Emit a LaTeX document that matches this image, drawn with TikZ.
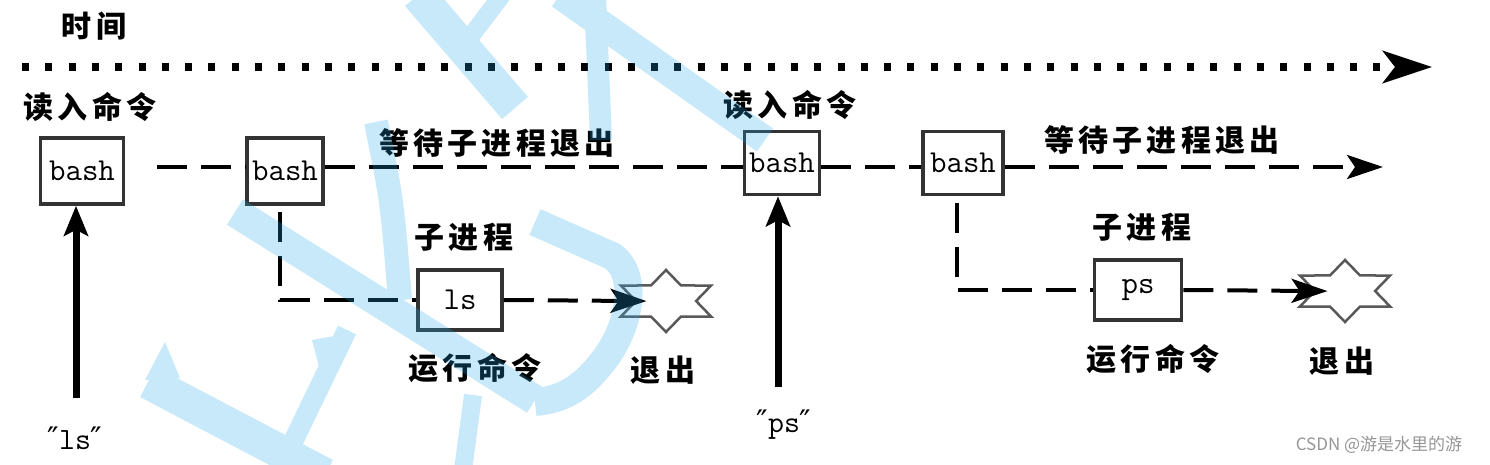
\documentclass[tikz,border=0pt]{standalone}
\usepackage{fontspec}
\usetikzlibrary{arrows.meta,shapes.geometric}
\newfontfamily\cjk{Noto Sans CJK SC}[LetterSpace=14]
\newfontfamily\cjkplain{Noto Sans CJK SC}
\newfontfamily\dvsans{DejaVu Sans}
\definecolor{wmblue}{RGB}{35,171,235}
\definecolor{csdngray}{RGB}{150,150,150}
\begin{document}
\begin{tikzpicture}[x=1pt,y=-1pt,
  box/.style={draw=black!80, line width=3.5pt, fill=white, inner sep=0pt, font=\ttfamily\fontsize{32}{32}\selectfont},
  lab/.style={inner sep=0pt, font=\cjk\bfseries\fontsize{30}{30}\selectfont},
  quotelab/.style={inner sep=0pt, font=\ttfamily\fontsize{31}{31}\selectfont},
  dsh/.style={line width=4pt, dash pattern=on 30pt off 14pt},
  dsharrow/.style={dsh, -{Stealth[length=36pt,width=24pt,inset=8pt]}},
  solidarrow/.style={line width=7pt, -{Stealth[length=30pt,width=24pt,inset=6pt]}},
  timeline/.style={line width=8pt, dash pattern=on 7pt off 16.3pt, -{Stealth[length=49pt,width=32pt,inset=12pt]}},
  starnode/.style={star, star points=6, star point ratio=1.732, minimum size=62pt, inner sep=0pt, xscale=1.68, draw=black!65, line width=2.5pt, fill=white},
  wm/.style={draw=wmblue, line cap=butt}]
\useasboundingbox (0,0) rectangle (1490,465);
\fill[white] (0,0) rectangle (1490,465);

% time axis
\node[lab] (time) at (94,26) {时间};
\coordinate (t0) at (22,67);
\coordinate (t1) at (1432,67);
\draw[timeline] (t0) -- (t1);

% parent shell
\node[lab] (read1) at (90,107) {读入命令};
\node[lab] (read2) at (790,105) {读入命令};
\node[box, minimum width=83pt, minimum height=66pt] (b1) at (82,171) {bash};
\node[box, minimum width=76pt, minimum height=66pt] (b2) at (285,171) {bash};
\node[box, minimum width=75pt, minimum height=63pt] (b3) at (782,163) {bash};
\node[box, minimum width=80pt, minimum height=63pt] (b4) at (963,163) {bash};
\node[lab] (wait1) at (497,143) {等待子进程退出};
\node[lab] (wait2) at (1162,140) {等待子进程退出};

\coordinate (s1) at (157,167);
\coordinate (e1) at (1383,167);
\draw[dsh] (s1) -- (s1 -| b2.west);
\draw[dsh] (s1 -| b2.east) -- (s1 -| b3.west);
\draw[dsh] (s1 -| b3.east) -- (s1 -| b4.west);
\draw[dsharrow] (s1 -| b4.east) -- (e1);

% first child
\node[lab] (sub1) at (464,237) {子进程};
\node[box, minimum width=84pt, minimum height=60pt] (ls) at (460,300) {ls};
\node[starnode] (st1) at (666,301) {};
\node[lab] (run1) at (475,368) {运行命令};
\node[lab] (exit1) at (663,370) {退出};
\coordinate (c1) at (280,212);
\draw[dsh] (c1) |- (ls.west);
\draw[dsharrow, shorten >=-13pt] (ls.east) -- (st1.west);

% second child
\node[lab] (sub2) at (1142,227) {子进程};
\node[box, minimum width=87pt, minimum height=60pt] (ps) at (1138,290) {\raisebox{-5pt}{ps}};
\node[starnode] (st2) at (1345,291) {};
\node[lab] (run2) at (1153,359) {运行命令};
\node[lab] (exit2) at (1342,361) {退出};
\coordinate (c2) at (957,203);
\draw[dsh] (c2) |- (ps.west);
\draw[dsharrow, shorten >=-15pt] (ps.east) -- (st2.west);

% inputs
\coordinate (in1) at (76,398);
\draw[solidarrow] (in1) -- (in1 |- b1.south);
\node[quotelab] (q1) at (75,438) {{\dvsans ″}ls{\dvsans ″}};
\coordinate (in2) at (778,387);
\draw[solidarrow] (in2) -- (in2 |- b3.south);
\node[quotelab] (q2) at (784,425) {{\dvsans ″}ps{\dvsans ″}};

% source mark
\node[font=\cjkplain\fontsize{17}{17}\selectfont, text=csdngray, inner sep=0pt] (csdn) at (1379,445) {CSDN @游是水里的游};

% light blue watermark strokes
\begin{scope}[transparency group, opacity=0.25]
  \draw[wm, line width=34pt] (418,-5) -- (515,108);
  \draw[wm, line width=18pt] (502,-5) -- (468,40);
  \draw[wm, line width=28pt] (560,-5) -- (765,140);
  \draw[wm, line width=22pt] (595,-5) -- (601,140);
  \draw[wm, line width=24pt] (376,122) .. controls (392,200) .. (400,300);
  \draw[wm, line width=30pt] (235,212) -- (535,400);
  \draw[wm, line width=28pt] (535,222) -- (612,256) .. controls (640,275) and (630,330) .. (600,365) .. controls (580,390) and (560,400) .. (535,402);
  \draw[wm, line width=34pt] (148,382) -- (325,475);
  \fill[wmblue] (165,342) -- (180,378) -- (145,380) -- cycle;
  \draw[wm, line width=20pt] (347,330) -- (288,452);
  \fill[wmblue] (312,340) -- (322,378) -- (340,335) -- cycle;
  \draw[wm, line width=18pt] (473,395) -- (463,470);
\end{scope}
\end{tikzpicture}
\end{document}
